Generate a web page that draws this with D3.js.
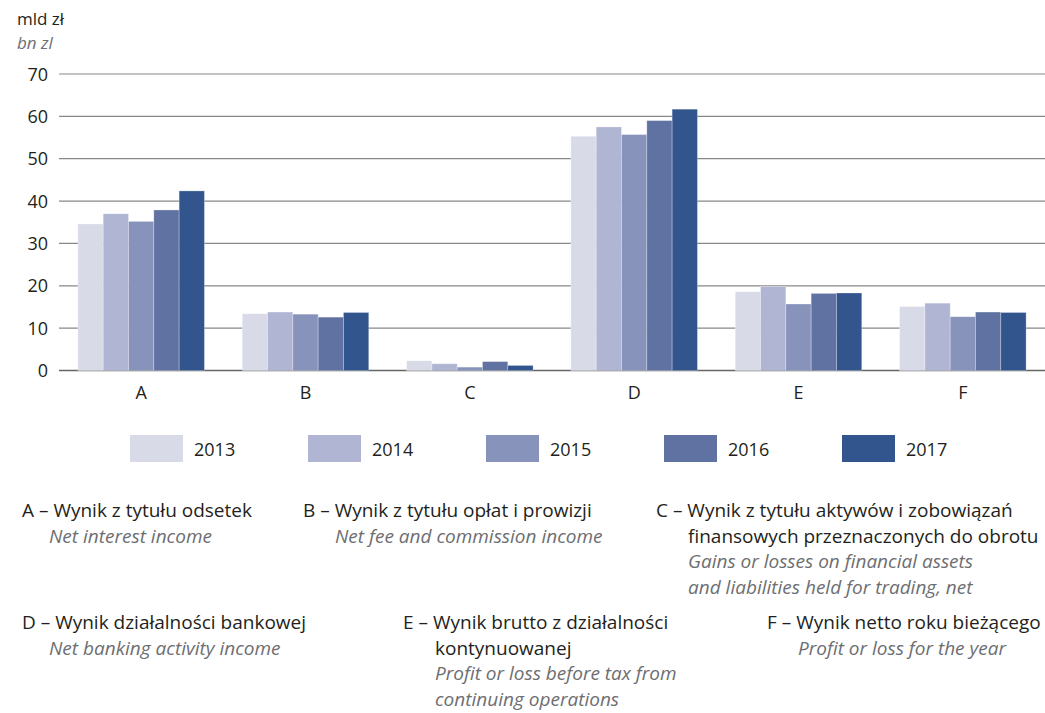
<!DOCTYPE html>
<html>
<head>
<meta charset="utf-8">
<script src="https://cdn.jsdelivr.net/npm/d3@7"></script>
<style>
body{margin:0;background:#fff;}
svg{display:block;font-family:"Open Sans",sans-serif;}
</style>
</head>
<body>
<svg id="svg" width="1045" height="713"></svg>
<script>
// categories and yearly values (mld zl)
var categories = ["A","B","C","D","E","F"];
var years = ["2013","2014","2015","2016","2017"];
var v2013 = [34.6,13.4,2.3,55.3,18.6,15.1];
var v2014 = [37.0,13.8,1.6,57.5,19.8,15.9];
var v2015 = [35.2,13.3,0.8,55.7,15.7,12.7];
var v2016 = [37.9,12.6,2.1,59.0,18.2,13.8];
var v2017 = [42.4,13.7,1.2,61.7,18.3,13.7];
var yTicks = [0,10,20,30,40,50,60,70];
var colors = ["#d8dae8","#b0b5d3","#8893bb","#6072a2","#33558e"];

// footnote texts: [x, indent x, baseline, polish lines, english lines]
var notes = [
    [22,49,517,["A – Wynik z tytułu odsetek"],["Net interest income"]],
    [303,335,517,["B – Wynik z tytułu opłat i prowizji"],["Net fee and commission income"]],
    [656,688,517,["C – Wynik z tytułu aktywów i zobowiązań","finansowych przeznaczonych do obrotu"],["Gains or losses on financial assets","and liabilities held for trading, net"]],
    [22,49,629,["D – Wynik działalności bankowej"],["Net banking activity income"]],
    [403,435,629,["E – Wynik brutto z działalności","kontynuowanej"],["Profit or loss before tax from","continuing operations"]],
    [767,798,629,["F – Wynik netto roku bieżącego"],["Profit or loss for the year"]]
];

var series = [v2013,v2014,v2015,v2016,v2017];
var data = [];
for(var c=0;c<categories.length;c++){
    for(var s=0;s<years.length;s++){
        data.push({cat:categories[c],year:years[s],value:series[s][c],idx:s});
    }
}

var svg = d3.select("svg");

var x = d3.scaleBand().domain(categories).range([59,1045]).paddingInner(0.23).paddingOuter(0.115);
var x1 = d3.scaleBand().domain(years).range([0,x.bandwidth()]);
var y = d3.scaleLinear().domain([0,70]).range([370.5,74]);

// gridlines
svg.selectAll(".grid")
    .data(yTicks)
    .enter()
    .append("line")
    .attr("x1",59).attr("x2",1045)
    .attr("y1",function(d){ return y(d); })
    .attr("y2",function(d){ return y(d); })
    .attr("stroke",function(d){ return d==0?"#666666":"#888888"; })
    .attr("stroke-width",function(d){ return d==0?1.6:1.2; });

svg.selectAll(".ylab")
    .data(yTicks)
    .enter()
    .append("text")
    .attr("x",48)
    .attr("y",function(d){ return y(d)+6.5; })
    .attr("text-anchor","end")
    .attr("font-size",18)
    .attr("fill","#231f20")
    .text(function(d){ return d; });

// bars
svg.selectAll(".bar")
    .data(data)
    .enter()
    .append("rect")
    .attr("x",function(d){ return x(d.cat)+x1(d.year); })
    .attr("width",x1.bandwidth())
    .attr("y",function(d){ return y(d.value); })
    .attr("height",function(d){ return y(0)-y(d.value); })
    .attr("fill",function(d){ return colors[d.idx]; })
    .attr("stroke","#ffffff")
    .attr("stroke-opacity",0.35)
    .attr("stroke-width",0.8);

svg.selectAll(".xlab")
    .data(categories)
    .enter()
    .append("text")
    .attr("x",function(d){ return x(d)+x.bandwidth()/2; })
    .attr("y",399)
    .attr("text-anchor","middle")
    .attr("font-size",18)
    .attr("fill","#231f20")
    .text(function(d){ return d; });

// unit labels
svg.append("text").attr("x",17).attr("y",25).attr("font-size",17).attr("fill","#231f20").text("mld zł");
svg.append("text").attr("x",17).attr("y",49).attr("font-size",17).attr("font-style","italic").attr("fill","#6d6e71").text("bn zl");

// legend
var leg = svg.selectAll(".leg")
    .data(years)
    .enter()
    .append("g")
    .attr("transform",function(d,i){ return "translate("+(130+i*178)+",435)"; });
leg.append("rect").attr("width",53).attr("height",27).attr("fill",function(d,i){ return colors[i]; });
leg.append("text").attr("x",64).attr("y",21).attr("font-size",18).attr("fill","#231f20").text(function(d){ return d; });

// footnotes
notes.forEach(function(n){
    var g = svg.append("g");
    n[3].forEach(function(t,i){
        g.append("text")
            .attr("x",i==0?n[0]:n[1])
            .attr("y",n[2]+i*25.5)
            .attr("font-size",19)
            .attr("fill","#231f20")
            .text(t);
    });
    n[4].forEach(function(t,i){
        g.append("text")
            .attr("x",n[1])
            .attr("y",n[2]+(n[3].length+i)*25.5)
            .attr("font-size",19)
            .attr("font-style","italic")
            .attr("fill","#6d6e71")
            .text(t);
    });
});
</script>
</body>
</html>
